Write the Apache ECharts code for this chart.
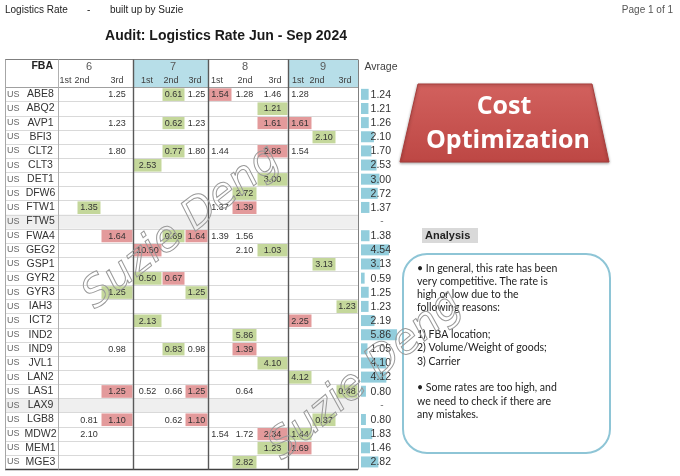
<!DOCTYPE html>
<html><head><meta charset="utf-8">
<script src="https://cdn.jsdelivr.net/npm/echarts@6/dist/echarts.min.js"></script>
<style>html,body{margin:0;padding:0;background:#fff}#c{width:680px;height:476px}</style>
</head><body><div id="c"></div>
<script>
// ---------- data ----------
const fbaCodes = ['ABE8','ABQ2','AVP1','BFI3','CLT2','CLT3','DET1','DFW6','FTW1','FTW5','FWA4','GEG2','GSP1','GYR2','GYR3','IAH3','ICT2','IND2','IND9','JVL1','LAN2','LAS1','LAX9','LGB8','MDW2','MEM1','MGE3'];
const months = ['6','7','8','9'];
const periods = ['1st','2nd','3rd'];
const averages = [1.24,1.21,1.26,2.10,1.70,2.53,3.00,2.72,1.37,null,1.38,4.54,3.13,0.59,1.25,1.23,2.19,5.86,1.05,4.10,4.12,0.80,null,0.80,1.83,1.46,2.82];
const noDataRows = ['FTW5','LAX9'];
// [FBA, column (month*3+period), rate, flag: 0 normal, 1 low, 2 high]
const rates = [
 ['ABE8',2,1.25,0],['ABE8',4,0.61,1],['ABE8',5,1.25,0],['ABE8',6,1.54,2],['ABE8',7,1.28,0],['ABE8',8,1.46,0],['ABE8',9,1.28,0],
 ['ABQ2',8,1.21,1],
 ['AVP1',2,1.23,0],['AVP1',4,0.62,1],['AVP1',5,1.23,0],['AVP1',8,1.61,2],['AVP1',9,1.61,2],
 ['BFI3',10,2.10,1],
 ['CLT2',2,1.80,0],['CLT2',4,0.77,1],['CLT2',5,1.80,0],['CLT2',6,1.44,0],['CLT2',8,2.86,2],['CLT2',9,1.54,0],
 ['CLT3',3,2.53,1],
 ['DET1',8,3.00,1],
 ['DFW6',7,2.72,1],
 ['FTW1',1,1.35,1],['FTW1',6,1.37,0],['FTW1',7,1.39,2],
 ['FWA4',2,1.64,2],['FWA4',4,0.69,1],['FWA4',5,1.64,2],['FWA4',6,1.39,0],['FWA4',7,1.56,0],
 ['GEG2',3,10.50,2],['GEG2',7,2.10,0],['GEG2',8,1.03,1],
 ['GSP1',10,3.13,1],
 ['GYR2',3,0.50,1],['GYR2',4,0.67,2],
 ['GYR3',2,1.25,1],['GYR3',5,1.25,1],
 ['IAH3',11,1.23,1],
 ['ICT2',3,2.13,1],['ICT2',9,2.25,2],
 ['IND2',7,5.86,1],
 ['IND9',2,0.98,0],['IND9',4,0.83,1],['IND9',5,0.98,0],['IND9',7,1.39,2],
 ['JVL1',8,4.10,1],
 ['LAN2',9,4.12,1],
 ['LAS1',2,1.25,2],['LAS1',3,0.52,0],['LAS1',4,0.66,0],['LAS1',5,1.25,2],['LAS1',7,0.64,0],['LAS1',11,0.48,1],
 ['LGB8',1,0.81,0],['LGB8',2,1.10,2],['LGB8',4,0.62,0],['LGB8',5,1.10,2],['LGB8',10,0.37,1],
 ['MDW2',1,2.10,0],['MDW2',6,1.54,0],['MDW2',7,1.72,0],['MDW2',8,2.34,2],['MDW2',9,1.44,1],
 ['MEM1',8,1.23,1],['MEM1',9,1.69,2],
 ['MGE3',7,2.82,1]
];
const analysisLines = [
 '\u2022 In general, this rate has been',
 'very competitive. The rate is',
 'high or low due to the',
 'following reasons:',
 '',
 '1) FBA location;',
 '2) Volume/Weight of goods;',
 '3) Carrier',
 '',
 '\u2022 Some rates are too high, and',
 'we need to check if there are',
 'any mistakes.'
];

// ---------- layout (table units = px from table left) ----------
const colEdges = [53,72,96,128,157,180,203,227,252,283,307,331,353];
const monthEdges = [53,128,203,283,353];
const monthLabelX = [84,168,240,318];
const subHeadX = [60.5,77,112,142,166,190,212,240,270,293,312,340];
const highlightMonths = [1,3];
const TABLE_W = 353;
const flagColors = {1:'#c4d79b', 2:'#e39a9b'};

const yCats = ['_m','_s'].concat(fbaCodes);
const rowOf = n => fbaCodes.indexOf(n) + 2;
const cellData = rates.map(r => [r[1], rowOf(r[0]), r[2], r[3]]);
const barData = [null,null].concat(averages);
const avgLabelData = averages.map((v,i)=>[0, i+2]);

const chart = echarts.init(document.getElementById('c'), null, {renderer:'canvas'});
const FONT = '"Liberation Sans", Arial, sans-serif';

function helpers(api){
  const h = api.size([0,1])[1];
  return {
    h,
    X: v => api.coord([v,0])[0],
    top: i => api.coord([0,i])[1] - h/2,
    mid: i => api.coord([0,i])[1]
  };
}
const px = v => Math.round(v) + 0.5;

function renderBg(params, api){
  const H = helpers(api);
  const ch = [];
  highlightMonths.forEach(m=>{
    ch.push({type:'rect', shape:{x:H.X(monthEdges[m]), y:H.top(0), width:H.X(monthEdges[m+1])-H.X(monthEdges[m]), height:H.top(2)-H.top(0)}, style:{fill:'#b7dee8'}});
  });
  noDataRows.forEach(n=>{
    const r = rowOf(n);
    ch.push({type:'rect', shape:{x:H.X(0), y:H.top(r), width:H.X(TABLE_W)-H.X(0), height:H.h}, style:{fill:'#efefef'}});
  });
  return {type:'group', children:ch};
}

function renderCell(params, api){
  const H = helpers(api);
  const col = api.value(0), row = api.value(1), val = api.value(2), flag = api.value(3);
  const x0 = H.X(colEdges[col]), x1 = H.X(colEdges[col+1]);
  const ch = [];
  if (flag) ch.push({type:'rect', shape:{x:x0+0.5, y:H.top(row)+1, width:x1-x0-1, height:H.h-1.5}, style:{fill:flagColors[flag]}});
  ch.push({type:'text', x:(x0+x1)/2, y:H.mid(row)+0.5, style:{text:val.toFixed(2), align:'center', verticalAlign:'middle', font:'9px '+FONT, fill:'#333'}});
  return {type:'group', children:ch};
}

function renderFrame(params, api){
  const H = helpers(api);
  const ch = [];
  const L = H.X(0), R = H.X(TABLE_W);
  const hl = (y, c, w) => ch.push({type:'line', shape:{x1:L, y1:y, x2:R, y2:y}, style:{stroke:c, lineWidth:w||1}});
  const vl = (x, c, w) => ch.push({type:'line', shape:{x1:x, y1:px(H.top(0)), x2:x, y2:px(H.top(yCats.length))}, style:{stroke:c, lineWidth:w||1}});
  for (let i=3;i<yCats.length;i++) hl(px(H.top(i)), '#d9d9d9');
  hl(px(H.top(2)), '#a0a0a0');
  hl(px(H.top(0)), '#7f7f7f');
  hl(px(H.top(yCats.length)), '#404040', 1.5);
  vl(px(L), '#a6a6a6');
  vl(px(H.X(colEdges[0])), '#b0b0b0');
  [1,2,3].forEach(m=>vl(px(H.X(monthEdges[m])), '#595959', 1.4));
  vl(px(R), '#808080');
  months.forEach((m,i)=>ch.push({type:'text', x:H.X(monthLabelX[i]), y:H.mid(0)+1, style:{text:m, align:'center', verticalAlign:'middle', font:'11px '+FONT, fill:'#595959'}}));
  subHeadX.forEach((x,i)=>ch.push({type:'text', x:H.X(x), y:H.mid(1)+0.5, style:{text:periods[i%3], align:'center', verticalAlign:'middle', font:'9px '+FONT, fill:'#404040'}}));
  return {type:'group', children:ch};
}

function renderAvg(params, api){
  const i = params.dataIndex;
  const v = averages[i];
  const y = api.coord([0, i+2])[1];
  const xr = api.coord([6.5, 0])[0] - 10;
  if (v == null) return {type:'text', x:xr-9, y:y, style:{text:'-', align:'center', verticalAlign:'middle', font:'10px '+FONT, fill:'#777'}};
  return {type:'text', x:xr, y:y+0.5, style:{text:v.toFixed(2), align:'right', verticalAlign:'middle', font:'10.5px '+FONT, fill:'#333'}};
}

const gridTop = 59, gridH = 410;
const option = {
  animation:false,
  grid:[
    {left:5, top:gridTop, width:TABLE_W, height:gridH},
    {left:361, top:gridTop, width:40, height:gridH}
  ],
  xAxis:[
    {type:'value', min:0, max:TABLE_W, show:false, gridIndex:0},
    {type:'value', min:0, max:6.5, show:false, gridIndex:1}
  ],
  yAxis:[
    {type:'category', data:yCats, inverse:true, gridIndex:0, z:10,
     axisLine:{show:false}, axisTick:{show:false}, splitLine:{show:false},
     axisLabel:{inside:true, margin:2, align:'left', interval:0,
       formatter: v => v==='_m' ? '{h|FBA}' : (v==='_s' ? '' : '{u|US}{c|'+v+'}'),
       rich:{
         u:{fontSize:9, color:'#666', width:20, fontFamily:FONT},
         c:{fontSize:10.5, color:'#333', width:27, align:'center', fontFamily:FONT},
         h:{fontSize:10.5, color:'#222', fontWeight:'bold', width:46, align:'right', fontFamily:FONT}
       }}},
    {type:'category', data:yCats, inverse:true, gridIndex:1, show:false}
  ],
  series:[
    {type:'custom', xAxisIndex:0, yAxisIndex:0, z:1, silent:true, clip:false, data:[[0,0]], renderItem:renderBg},
    {type:'custom', xAxisIndex:0, yAxisIndex:0, z:2, silent:true, clip:false, data:cellData, renderItem:renderCell},
    {type:'custom', xAxisIndex:0, yAxisIndex:0, z:3, silent:true, clip:false, data:[[0,0]], renderItem:renderFrame},
    {type:'bar', xAxisIndex:1, yAxisIndex:1, z:2, silent:true, data:barData, barWidth:11, itemStyle:{color:'#92cddc'}},
    {type:'custom', xAxisIndex:1, yAxisIndex:1, z:4, silent:true, clip:false, data:avgLabelData, renderItem:renderAvg}
  ],
  graphic:[
    {type:'text', left:5, top:5, style:{text:'Logistics Rate', font:'10px '+FONT, fill:'#222'}},
    {type:'text', left:87, top:5, style:{text:'-', font:'10px '+FONT, fill:'#222'}},
    {type:'text', left:110, top:5, style:{text:'built up by Suzie', font:'10px '+FONT, fill:'#222'}},
    {type:'text', right:7, top:5, style:{text:'Page 1 of 1', font:'10px '+FONT, fill:'#555'}},
    {type:'text', x:226, y:36, style:{text:'Audit: Logistics Rate Jun - Sep 2024', align:'center', verticalAlign:'middle', font:'bold 14px '+FONT, fill:'#1a1a1a'}},
    {type:'text', x:381, y:67, style:{text:'Avrage', align:'center', verticalAlign:'middle', font:'10.5px '+FONT, fill:'#404040'}},
    {type:'polygon', shape:{points:[[418,84],[592,84],[609,162],[400,162]]},
     style:{fill:new echarts.graphic.LinearGradient(0,0,0,1,[{offset:0,color:'#d2615e'},{offset:1,color:'#bd4744'}]), stroke:'#a83c3a', lineWidth:1, shadowBlur:3, shadowColor:'rgba(0,0,0,0.35)', shadowOffsetY:1}},
    {type:'text', x:504, y:107, style:{text:'Cost', align:'center', verticalAlign:'middle', font:'bold 25px "Open Sans", sans-serif', fill:'#fff'}},
    {type:'text', x:508, y:141, style:{text:'Optimization', align:'center', verticalAlign:'middle', font:'bold 25px "Open Sans", sans-serif', fill:'#fff'}},
    {type:'rect', shape:{x:422, y:228, width:56, height:15}, style:{fill:'#d9d9d9'}},
    {type:'text', x:425, y:236, style:{text:'Analysis', verticalAlign:'middle', font:'bold 11px '+FONT, fill:'#222'}},
    {type:'rect', shape:{x:403, y:254, width:207, height:199, r:24}, style:{fill:'none', stroke:'#8ec5d6', lineWidth:2}},
    {type:'text', x:417, y:261.5, style:{text:analysisLines.join('\n'), font:'10.5px Lato, sans-serif', lineHeight:13.3, fill:'#222'}},
    {type:'text', x:182, y:228, rotation:38*Math.PI/180, z:100, style:{text:'Suzie Deng', align:'center', verticalAlign:'middle', font:'italic 42px "DejaVu Sans", sans-serif', fill:'rgba(0,0,0,0)', stroke:'#999', lineWidth:1}},
    {type:'text', x:366, y:376, rotation:40*Math.PI/180, z:100, style:{text:'Suzie Deng', align:'center', verticalAlign:'middle', font:'italic 42px "DejaVu Sans", sans-serif', fill:'rgba(0,0,0,0)', stroke:'#999', lineWidth:1}}
  ]
};
chart.setOption(option);
</script>
</body></html>
